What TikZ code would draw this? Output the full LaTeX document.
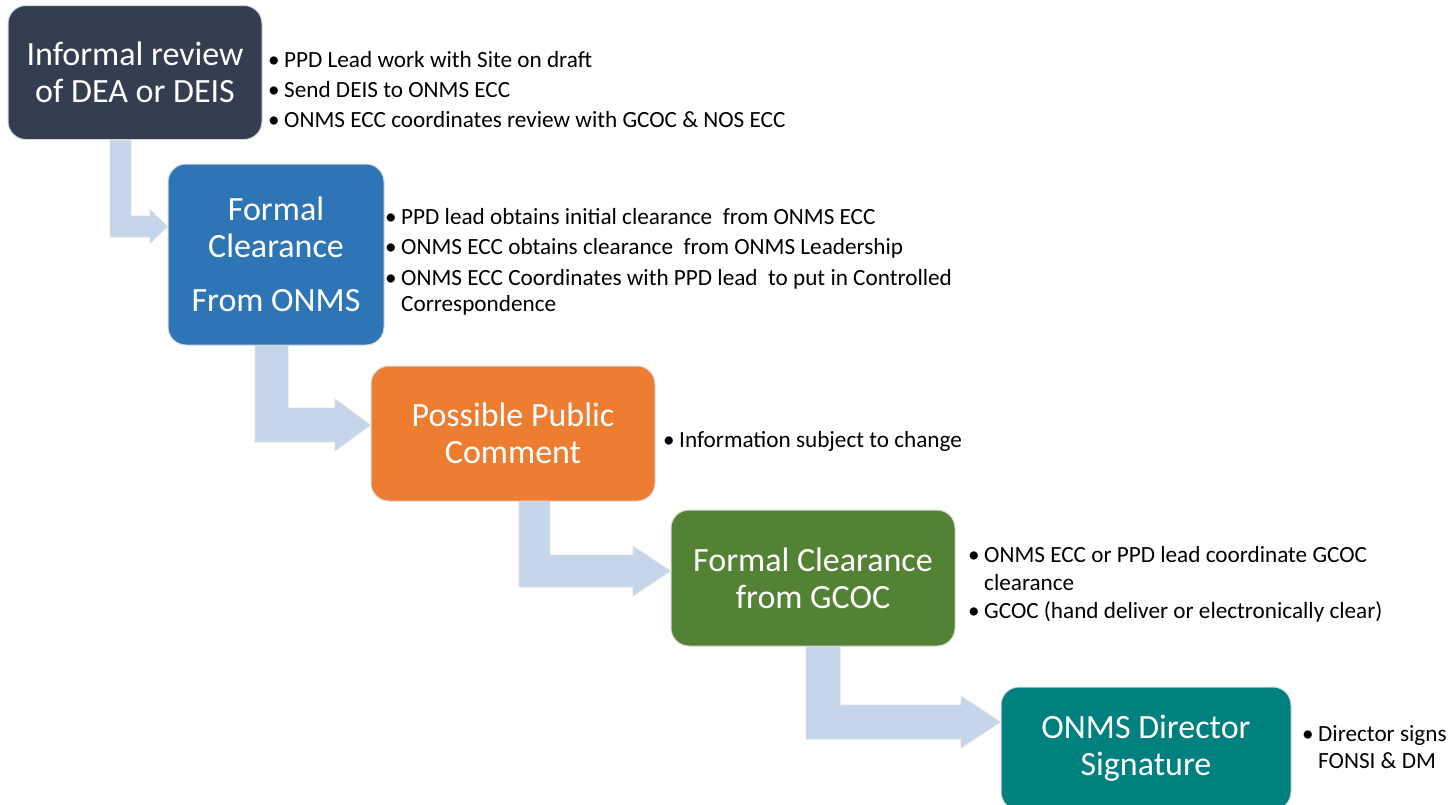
\documentclass[tikz,border=0pt]{standalone}
\usepackage{fontspec}
\setmainfont{Carlito}
\usetikzlibrary{backgrounds}
\definecolor{cA}{HTML}{333F50}
\definecolor{cB}{HTML}{2E75B6}
\definecolor{cC}{HTML}{ED7D31}
\definecolor{cD}{HTML}{548235}
\definecolor{cE}{HTML}{00807F}
\definecolor{arrfill}{HTML}{C5D5EA}
\tikzset{
  stage/.style={rectangle, rounded corners=18pt, draw=black!15, line width=1pt,
    text=white, align=center, font=\fontsize{34}{37}\selectfont, inner sep=0pt},
  bul/.style={anchor=north west, align=left, inner sep=0pt, text=black,
    font=\fontsize{23.2}{26}\selectfont},
  barrow/.style={fill=arrfill, draw=black!12, line width=0.8pt},
}
\newcommand\bp{\makebox[16pt][l]{•}}
\newcommand\hind{\hspace*{16pt}}
\begin{document}
\begin{tikzpicture}[x=1pt,y=-1pt]
\useasboundingbox (0,0) rectangle (1449,804);
\clip (0,0) rectangle (1449,804);

% stage boxes
\node[stage, fill=cA, minimum width=254, minimum height=134] (b1) at (135,72.5)
  {Informal review\\of DEA or DEIS};
\node[stage, fill=cB, minimum width=216, minimum height=181] (b2) at (276,254.5)
  {Formal\\Clearance\\[17pt]From ONMS};
\node[stage, fill=cC, minimum width=284, minimum height=135] (b3) at (513,433.5)
  {Possible Public\\Comment};
\node[stage, fill=cD, minimum width=284, minimum height=136] (b4) at (813,578)
  {Formal Clearance\\from GCOC};
\node[stage, fill=cE, minimum width=290, minimum height=123] (b5) at (1146,748.5)
  {ONMS Director\\Signature};

% bullet texts
\node[bul] (t1) at (268,49.5)
  {\strut\bp PPD Lead work with Site on draft\\[4pt]
   \strut\bp Send DEIS to ONMS ECC\\[4pt]
   \strut\bp ONMS ECC coordinates review with GCOC \& NOS ECC};
\node[bul] (t2) at (385,206.5)
  {\strut\bp PPD lead obtains initial clearance\ \ from ONMS ECC\\[4pt]
   \strut\bp ONMS ECC obtains clearance\ \ from ONMS Leadership\\[5pt]
   \strut\bp ONMS ECC Coordinates with PPD lead\ \ to put in Controlled\\
   \strut\hind Correspondence};
\node[bul] (t3) at (663,429.5)
  {\strut\bp Information subject to change};
\node[bul] (t4) at (968,544.5)
  {\strut\bp ONMS ECC or PPD lead coordinate GCOC\\[2pt]
   \strut\hind clearance\\[2pt]
   \strut\bp GCOC (hand deliver or electronically clear)};
\node[bul] (t5) at (1302,723.5)
  {\strut\bp Director signs\\[1pt]
   \strut\hind FONSI \& DM};

% bent arrows between the stages
\begin{pgfonlayer}{background}
\draw[barrow] (110,0 |- b1.south) -- (131,0 |- b1.south) -- (131,216) -- (150,216)
  -- (150,209.5) -- (b2.west |- 0,226.5) -- (150,243.5) -- (150,237) -- (110,237) -- cycle;
\draw[barrow] (255,0 |- b2.south) -- (288,0 |- b2.south) -- (288,408) -- (335,408)
  -- (335,399) -- (b3.west |- 0,425) -- (335,451) -- (335,442) -- (255,442) -- cycle;
\draw[barrow] (519,0 |- b3.south) -- (550,0 |- b3.south) -- (550,555) -- (633,555)
  -- (633,546) -- (b4.west |- 0,571) -- (633,596) -- (633,587) -- (519,587) -- cycle;
\draw[barrow] (806,0 |- b4.south) -- (840,0 |- b4.south) -- (840,705) -- (961,705)
  -- (961,696) -- (b5.west |- 0,722) -- (961,748) -- (961,739) -- (806,739) -- cycle;
\end{pgfonlayer}
\end{tikzpicture}
\end{document}
